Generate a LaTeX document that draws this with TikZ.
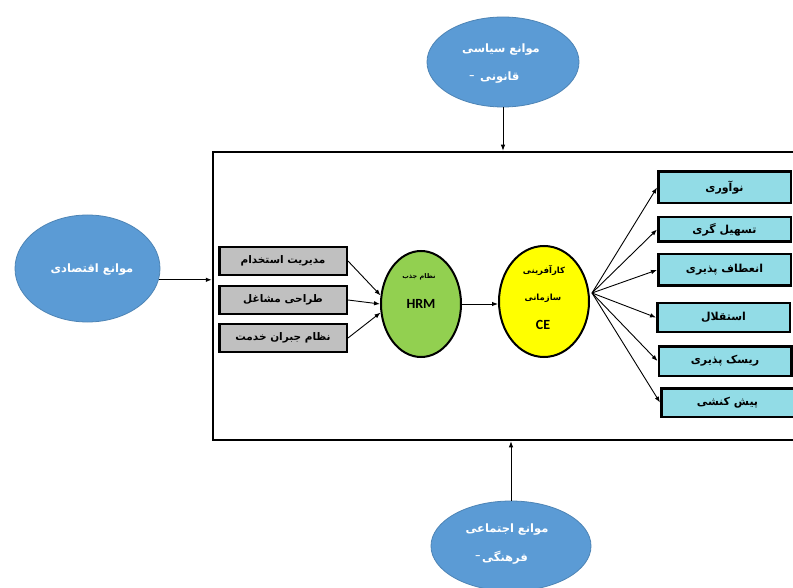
\documentclass[tikz,border=0pt]{standalone}
\usepackage{fontspec}
\usetikzlibrary{shapes.geometric,arrows.meta}
\TeXXeTstate=1
\newfontfamily\fa[Script=Arabic]{DejaVu Sans}
\newfontfamily\latinf{Carlito}
\definecolor{eblue}{RGB}{91,155,213}
\definecolor{boxgray}{RGB}{192,192,192}
\definecolor{boxcyan}{RGB}{146,220,230}
\definecolor{egreen}{RGB}{146,208,80}
\definecolor{eyellow}{RGB}{255,255,0}
\newcommand\rtl[1]{\beginR #1\endR}
\begin{document}
\begin{tikzpicture}[x=1pt,y=-1pt,
  blueell/.style={ellipse, fill=eblue, draw=eblue!85!black, line width=0.8pt, inner sep=0pt},
  wtxt/.style={inner sep=0pt, text=white, font=\fa\bfseries\fontsize{11.5}{14}\selectfont},
  wdash/.style={inner sep=0pt, text=white, font=\latinf\bfseries\fontsize{12}{14}\selectfont},
  graybox/.style={draw=black, line width=2.5pt, fill=boxgray, minimum width=127.5pt, minimum height=28pt,
    inner sep=0pt, font=\fa\bfseries\fontsize{10.5}{12}\selectfont},
  cyanbox/.style={draw=black, line width=2.5pt, fill=boxcyan, minimum width=132.5pt,
    inner sep=0pt, font=\fa\bfseries\fontsize{11}{12}\selectfont},
  innerell/.style={ellipse, draw=black, line width=2pt, inner sep=0pt},
  lbl/.style={inner sep=0pt, align=center},
  arr/.style={-{Latex[length=6pt,width=4.5pt]}, line width=0.9pt},
]
\useasboundingbox (0,0) rectangle (793,588);
\fill[white] (0,0) rectangle (793,588);

% frame
\node[draw=black, line width=2.5pt, minimum width=607pt, minimum height=288pt, inner sep=0pt] (frame) at (516.5,296) {};

% outer ellipses
\node[blueell, minimum width=152pt, minimum height=90pt] (pol) at (503,62) {};
\node[wtxt] (pol1) at (501,50) {\rtl{موانع سیاسی}};
\node[wtxt, anchor=west] (pol2) at (480,78) {\rtl{قانونی}};
\node[wdash, anchor=east] (pol2d) at ([xshift=-5pt]pol2.west) {–};

\node[blueell, minimum width=145pt, minimum height=107pt] (eco) at (87.5,268.5) {};
\node[wtxt] (eco1) at (92,270) {\rtl{موانع اقتصادی}};

\node[blueell, minimum width=160pt, minimum height=90pt] (soc) at (511,546) {};
\node[wtxt] (soc1) at (507,530) {\rtl{موانع اجتماعی}};
\node[wtxt, anchor=west] (soc2) at (482,558) {\rtl{فرهنگی}};
\node[wdash, anchor=east] (soc2d) at ([xshift=-1pt]soc2.west) {–};

\draw[arr] (pol.south) -- (pol.south |- frame.north);
\draw[arr] (eco.-9) -- (eco.-9 -| frame.west);
\draw[arr] (soc.north) -- (soc.north |- frame.south);

% gray boxes
\node[graybox] (g1) at (283,261) {\rtl{مدیریت استخدام}};
\node[graybox] (g2) at (283,300) {\rtl{طراحی مشاغل}};
\node[graybox] (g3) at (283,338) {\rtl{نظام جبران خدمت}};

% HRM ellipse
\node[innerell, fill=egreen, minimum width=80pt, minimum height=106pt] (hrm) at (421,304) {};
\node[lbl, font=\fa\bfseries\fontsize{6.5}{8}\selectfont] (hrmt) at (419,277) {\rtl{نظام جذب}};
\node[lbl, font=\latinf\bfseries\fontsize{14}{16}\selectfont] (hrml) at (421,304) {HRM};

% CE ellipse
\node[innerell, fill=eyellow, minimum width=90pt, minimum height=111pt] (ce) at (544,301.5) {};
\node[lbl, font=\fa\bfseries\fontsize{8.5}{10}\selectfont] (cet1) at (544,270) {\rtl{کارآفرینی}};
\node[lbl, font=\fa\bfseries\fontsize{8.5}{10}\selectfont] (cet2) at (543,298) {\rtl{سازمانی}};
\node[lbl, font=\latinf\bfseries\fontsize{14}{16}\selectfont] (cel) at (543,325) {CE};

\draw[arr] (g1.east) -- (hrm.168);
\draw[arr] (g2.east) -- (hrm.180);
\draw[arr] (g3.east) -- (hrm.192);
\draw[arr] (hrm.east) -- (ce.west |- hrm.east);

% cyan boxes
\node[cyanbox, minimum height=31.5pt] (c1) at (724.5,187.5) {\rtl{نوآوری}};
\node[cyanbox, minimum height=24.5pt] (c2) at (724.5,229.5) {\rtl{تسهیل گری}};
\node[cyanbox, minimum height=31.5pt] (c3) at (724.5,270) {\rtl{انعطاف پذیری}};
\node[cyanbox, minimum height=28.5pt] (c4) at (723.5,317.5) {\rtl{استقلال}};
\node[cyanbox, minimum height=29.5pt] (c5) at (725,361) {\rtl{ریسک پذیری}};
\node[cyanbox, minimum height=28.5pt] (c6) at (727.5,402.5) {\rtl{پیش کنشی}};

\coordinate (fan) at (592,293);
\foreach \c in {c1,c2,c3,c4,c5,c6}
  \draw[arr] (fan) -- (\c.west);
\end{tikzpicture}
\end{document}
